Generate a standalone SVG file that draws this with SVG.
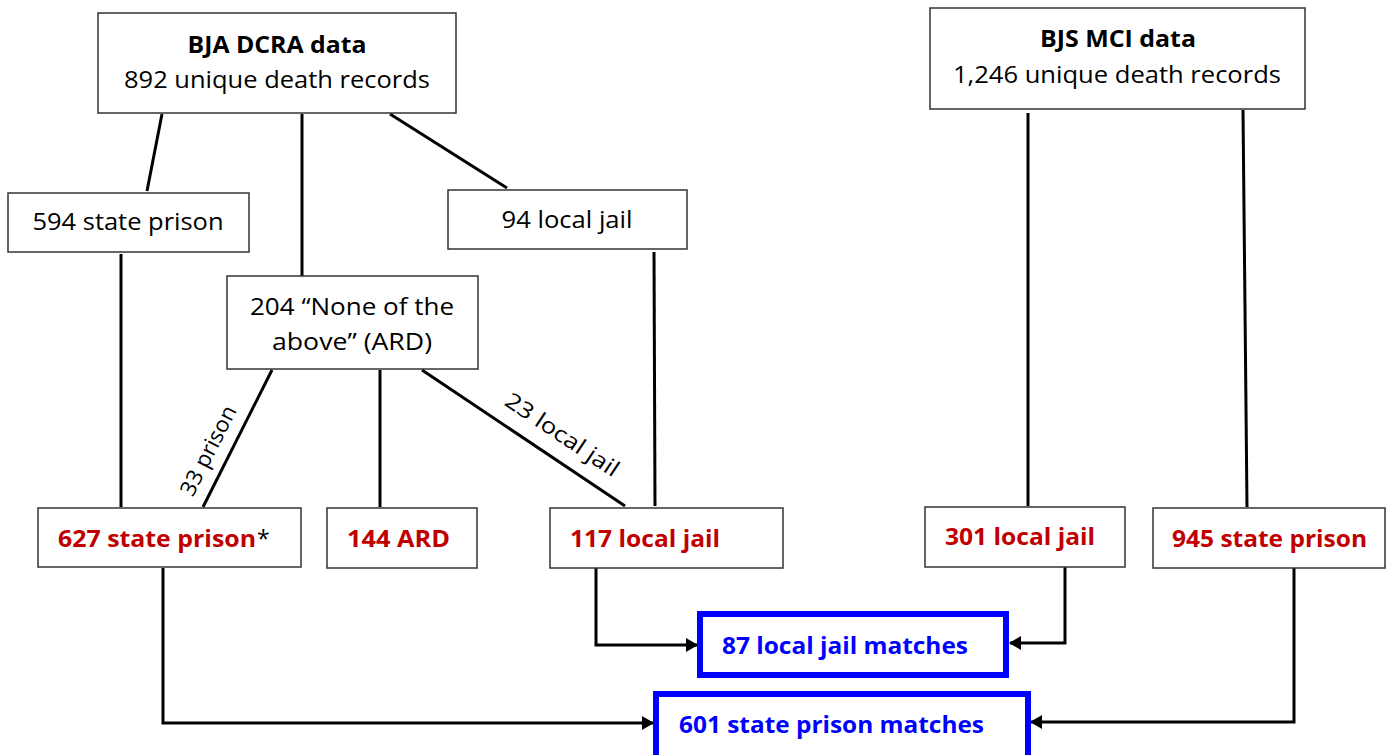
<svg xmlns="http://www.w3.org/2000/svg" width="1400" height="755" viewBox="0 0 1400 755">
<defs>
<style>
text{font-family:"Open Sans",Lato,"Liberation Sans",sans-serif;fill:#000}
.box{fill:#fff;stroke:#333;stroke-width:1.5}
.mbox{fill:#fff;stroke:#0000ff;stroke-width:6}
.t{font-size:24px}
.b{font-size:23px;font-weight:bold}
.red{font-size:23px;font-weight:bold;fill:#c00000}
.blue{font-size:23px;font-weight:bold;fill:#0000ff}
.c{text-anchor:middle}
.ln{fill:none;stroke:#000;stroke-width:3}
.lab{font-size:22px}
</style>
<marker id="ah" markerWidth="12" markerHeight="14" refX="11" refY="7" orient="auto" markerUnits="userSpaceOnUse">
<path d="M0,0 L12,7 L0,14 Z" fill="#000"/>
</marker>
</defs>
<rect width="1400" height="755" fill="#fff"/>
<g id="connectors">
<line class="ln" x1="162" y1="114" x2="147" y2="191"/>
<line class="ln" x1="302" y1="114" x2="302" y2="276"/>
<line class="ln" x1="390" y1="114" x2="507" y2="188"/>
<line class="ln" x1="121" y1="254" x2="121" y2="507"/>
<line class="ln" x1="654" y1="252" x2="655" y2="506"/>
<line class="ln" x1="272" y1="370" x2="203" y2="507"/>
<line class="ln" x1="380" y1="370" x2="380" y2="507"/>
<line class="ln" x1="422" y1="370" x2="625" y2="506"/>
<line class="ln" x1="1028" y1="113" x2="1028" y2="506"/>
<line class="ln" x1="1243" y1="110" x2="1247" y2="507"/>
<polyline class="ln" points="163,568 163,723 653,723" marker-end="url(#ah)"/>
<polyline class="ln" points="596,568 596,645 697,645" marker-end="url(#ah)"/>
<polyline class="ln" points="1065,567 1065,643 1010,643" marker-end="url(#ah)"/>
<polyline class="ln" points="1294,568 1294,722 1031,722" marker-end="url(#ah)"/>
<text class="lab" transform="translate(215,454) rotate(-63)" text-anchor="middle" textLength="98" lengthAdjust="spacingAndGlyphs">33 prison</text>
<text class="lab" transform="translate(558,441) rotate(33.8)" text-anchor="middle" textLength="132" lengthAdjust="spacingAndGlyphs">23 local jail</text>
</g>
<g id="bja">
<rect class="box" x="98" y="13" width="358" height="100"/>
<text class="b c" x="277" y="53" textLength="179" lengthAdjust="spacingAndGlyphs">BJA DCRA data</text>
<text class="t c" x="277" y="88" textLength="306" lengthAdjust="spacingAndGlyphs">892 unique death records</text>
</g>
<g id="bjs">
<rect class="box" x="930" y="8" width="375" height="101"/>
<text class="b c" x="1118" y="47" textLength="156" lengthAdjust="spacingAndGlyphs">BJS MCI data</text>
<text class="t c" x="1117" y="83" textLength="328" lengthAdjust="spacingAndGlyphs">1,246 unique death records</text>
</g>
<g id="n594">
<rect class="box" x="8" y="193" width="241" height="59"/>
<text class="t c" x="128" y="230" textLength="191" lengthAdjust="spacingAndGlyphs">594 state prison</text>
</g>
<g id="n94">
<rect class="box" x="448" y="190" width="239" height="59"/>
<text class="t c" x="567" y="228" textLength="131" lengthAdjust="spacingAndGlyphs">94 local jail</text>
</g>
<g id="n204">
<rect class="box" x="227" y="276" width="251" height="93"/>
<text class="t c" x="352" y="315" textLength="204" lengthAdjust="spacingAndGlyphs">204 “None of the</text>
<text class="t c" x="352" y="350" textLength="160" lengthAdjust="spacingAndGlyphs">above” (ARD)</text>
</g>
<g id="n627">
<rect class="box" x="38" y="508" width="263" height="59"/>
<text class="red" x="58" y="547" textLength="198" lengthAdjust="spacingAndGlyphs">627 state prison</text>
<text x="257" y="547" style="font-size:23px">*</text>
</g>
<g id="n144">
<rect class="box" x="327" y="508" width="150" height="60"/>
<text class="red" x="347" y="547" textLength="103" lengthAdjust="spacingAndGlyphs">144 ARD</text>
</g>
<g id="n117">
<rect class="box" x="550" y="508" width="233" height="60"/>
<text class="red" x="570" y="547" textLength="150" lengthAdjust="spacingAndGlyphs">117 local jail</text>
</g>
<g id="n301">
<rect class="box" x="925" y="507" width="200" height="60"/>
<text class="red" x="945" y="545" textLength="150" lengthAdjust="spacingAndGlyphs">301 local jail</text>
</g>
<g id="n945">
<rect class="box" x="1153" y="508" width="232" height="60"/>
<text class="red" x="1172" y="547" textLength="195" lengthAdjust="spacingAndGlyphs">945 state prison</text>
</g>
<g id="m87">
<rect class="mbox" x="700" y="614" width="306" height="61"/>
<text class="blue" x="722" y="654" textLength="246" lengthAdjust="spacingAndGlyphs">87 local jail matches</text>
</g>
<g id="m601">
<rect class="mbox" x="656" y="694" width="372" height="64"/>
<text class="blue" x="679" y="733" textLength="305" lengthAdjust="spacingAndGlyphs">601 state prison matches</text>
</g>
</svg>
